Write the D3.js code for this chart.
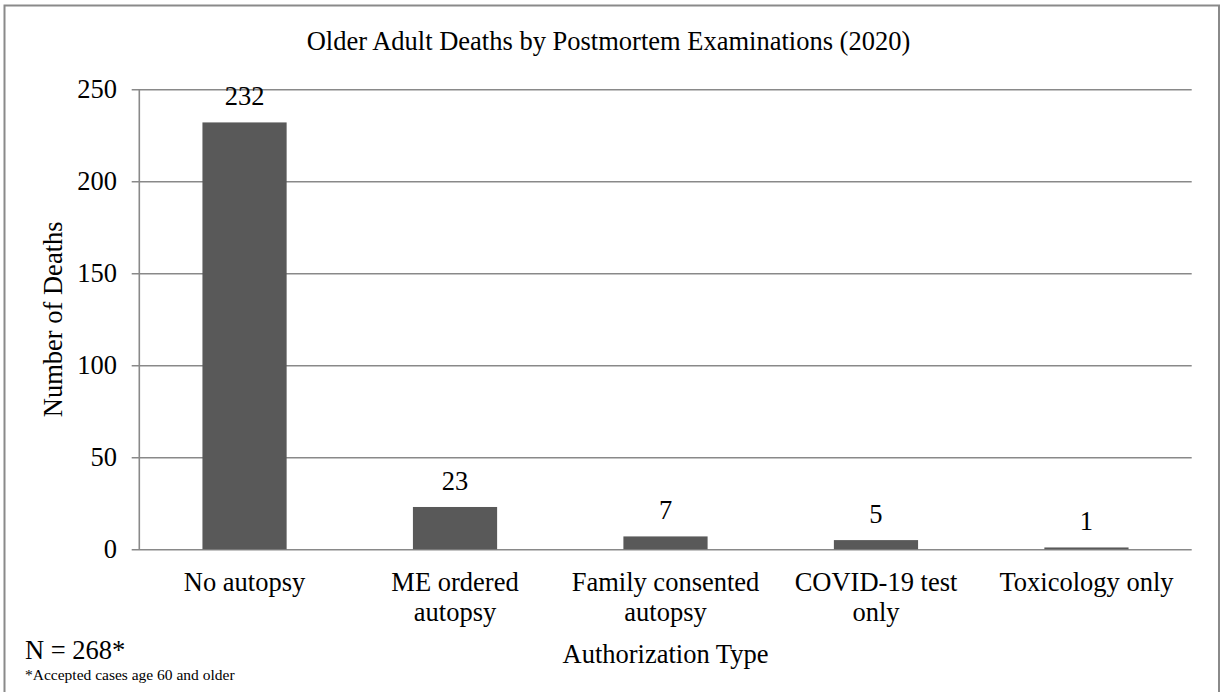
<!DOCTYPE html>
<html>
<head>
<meta charset="utf-8">
<script src="https://cdn.jsdelivr.net/npm/d3@7"></script>
</head>
<body style="margin:0;background:#fff">
<div id="chart"></div>
<script>
// chart values
const categories = ['No autopsy', 'ME ordered\nautopsy', 'Family consented\nautopsy', 'COVID-19 test\nonly', 'Toxicology only'];
const deaths = [232, 23, 7, 5, 1];
const yTicks = [0, 50, 100, 150, 200, 250];

const width = 1221;
const height = 692;
const margin = { top: 89.3, bottom: 142.7, left: 139.3, right: 29.3 };
const serif = '"Liberation Serif", "Times New Roman", Times, serif';
const fs = 26.5;

const svg = d3.select('#chart')
  .append('svg')
  .attr('width', width)
  .attr('height', height)
  .attr('font-family', serif);

// outer frame
svg.append('rect')
  .attr('x', 4.5).attr('y', 5.5)
  .attr('width', 1214.5).attr('height', 700)
  .attr('fill', 'none')
  .attr('stroke', '#8a8a8a')
  .attr('stroke-width', 2);

const x = d3.scaleBand()
  .domain(d3.range(categories.length))
  .range([margin.left, width - margin.right])
  .paddingInner(0.6)
  .paddingOuter(0.3);

const y = d3.scaleLinear()
  .domain([0, 250])
  .range([height - margin.bottom, margin.top]);

// gridlines + y ticks
svg.append('g')
  .attr('transform', `translate(${margin.left},0)`)
  .call(d3.axisLeft(y).tickValues(yTicks).tickSize(7.6).tickPadding(14.7))
  .attr('font-family', serif)
  .attr('font-size', fs)
  .call(g => g.select('.domain').remove())
  .call(g => g.selectAll('.tick line')
    .attr('x2', width - margin.right - margin.left)
    .attr('x1', -7.6)
    .attr('stroke', '#898989')
    .attr('stroke-width', 1.6))
  .call(g => g.selectAll('.tick text')
    .attr('font-family', serif)
    .attr('fill', '#000'));

// y axis line
svg.append('line')
  .attr('x1', margin.left).attr('x2', margin.left)
  .attr('y1', y(250)).attr('y2', y(0))
  .attr('stroke', '#898989')
  .attr('stroke-width', 1.6);

// bars
svg.append('g')
  .attr('fill', '#595959')
  .selectAll('rect')
  .data(deaths)
  .join('rect')
    .attr('x', (d, i) => x(i))
    .attr('y', d => y(d))
    .attr('width', x.bandwidth())
    .attr('height', d => y(0) - y(d));

// value labels
svg.append('g')
  .selectAll('text')
  .data(deaths)
  .join('text')
    .attr('x', (d, i) => x(i) + x.bandwidth() / 2)
    .attr('y', d => y(d) - 17)
    .attr('text-anchor', 'middle')
    .attr('font-family', serif)
    .attr('font-size', fs)
    .text(d => d);

// category labels (x axis, no ticks)
svg.append('g')
  .attr('transform', `translate(0,${y(0)})`)
  .call(d3.axisBottom(x).tickSize(0).tickFormat(''))
  .call(g => g.select('.domain').remove())
  .selectAll('.tick')
  .each(function(i) {
    const t = d3.select(this).append('text')
      .attr('text-anchor', 'middle')
      .attr('font-size', fs)
      .attr('font-family', serif)
      .attr('fill', '#000');
    categories[i].split('\n').forEach((line, k) => {
      t.append('tspan').attr('x', 0).attr('y', 42 + k * 29.5).text(line);
    });
  });

// title
svg.append('text')
  .attr('x', 608.5).attr('y', 50)
  .attr('text-anchor', 'middle')
  .attr('font-family', serif)
  .attr('font-size', fs)
  .text('Older Adult Deaths by Postmortem Examinations (2020)');

// axis titles
svg.append('text')
  .attr('transform', `translate(62,${(y(0) + y(250)) / 2}) rotate(-90)`)
  .attr('text-anchor', 'middle')
  .attr('font-family', serif)
  .attr('font-size', fs)
  .text('Number of Deaths');

svg.append('text')
  .attr('x', (margin.left + width - margin.right) / 2)
  .attr('y', 663)
  .attr('text-anchor', 'middle')
  .attr('font-family', serif)
  .attr('font-size', fs)
  .text('Authorization Type');

// notes
svg.append('text')
  .attr('x', 25).attr('y', 659)
  .attr('font-family', serif)
  .attr('font-size', fs)
  .text('N = 268*');

svg.append('text')
  .attr('x', 25).attr('y', 680)
  .attr('font-family', serif)
  .attr('font-size', 15.5)
  .text('*Accepted cases age 60 and older');
</script>
</body>
</html>
